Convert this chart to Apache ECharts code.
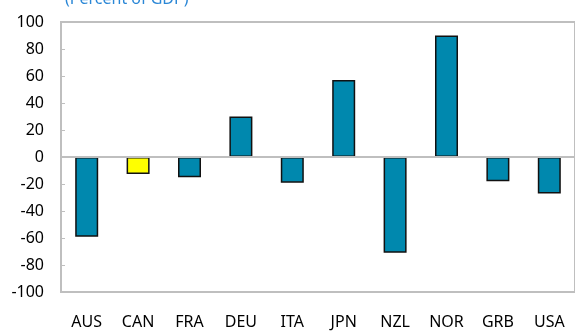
<!DOCTYPE html>
<html>
<head>
<meta charset="utf-8">
<script src="https://cdn.jsdelivr.net/npm/echarts@6/dist/echarts.min.js"></script>
<style>
  html, body { margin: 0; padding: 0; background: #fff; }
  #chart { width: 575px; height: 333px; }
</style>
</head>
<body>
<div id="chart"></div>
<script>
// Net international position by country (percent of GDP)
const countries = ['AUS', 'CAN', 'FRA', 'DEU', 'ITA', 'JPN', 'NZL', 'NOR', 'GRB', 'USA'];
const values = [-59, -12.5, -15, 30, -19, 57, -71, 90, -18, -27];
const highlight = 'CAN';
const yTicks = { min: -100, max: 100, step: 20 };

const TEAL = '#0088AE';
const YELLOW = '#FFFF00';
const GRAY = '#BFBFBF';
const FONT = 'Noto Sans';

const chart = echarts.init(document.getElementById('chart'), null, { renderer: 'canvas' });

chart.setOption({
  animation: false,
  backgroundColor: '#fff',
  title: {
    text: '(Percent of GDP)',
    left: 60,
    top: -14,
    textStyle: { color: '#2B87D6', fontFamily: FONT, fontSize: 16, fontWeight: 'normal' }
  },
  grid: {
    left: 61, right: -8, top: 22, bottom: 41,
    show: true, borderColor: GRAY, borderWidth: 2, backgroundColor: 'transparent'
  },
  xAxis: {
    type: 'category',
    data: countries,
    position: 'bottom',
    axisLine: { onZero: false, show: false },
    axisTick: { show: false },
    axisLabel: { color: '#000', fontFamily: FONT, fontSize: 16, margin: 22 }
  },
  yAxis: {
    type: 'value',
    min: yTicks.min,
    max: yTicks.max,
    interval: yTicks.step,
    axisLine: { show: true, lineStyle: { color: GRAY, width: 2 } },
    axisTick: { show: true, inside: true, length: 4, lineStyle: { color: GRAY, width: 1 } },
    splitLine: { show: false },
    axisLabel: { color: '#000', fontFamily: FONT, fontSize: 16, margin: 17 }
  },
  series: [{
    type: 'bar',
    barWidth: 23,
    data: values.map((v, i) => ({
      value: v,
      itemStyle: { color: countries[i] === highlight ? YELLOW : TEAL }
    })),
    itemStyle: { borderColor: '#111', borderWidth: 1.5 },
    markLine: {
      silent: true,
      symbol: 'none',
      label: { show: false },
      lineStyle: { color: GRAY, width: 2, type: 'solid' },
      data: [{ yAxis: 0 }]
    }
  }]
});
</script>
</body>
</html>
